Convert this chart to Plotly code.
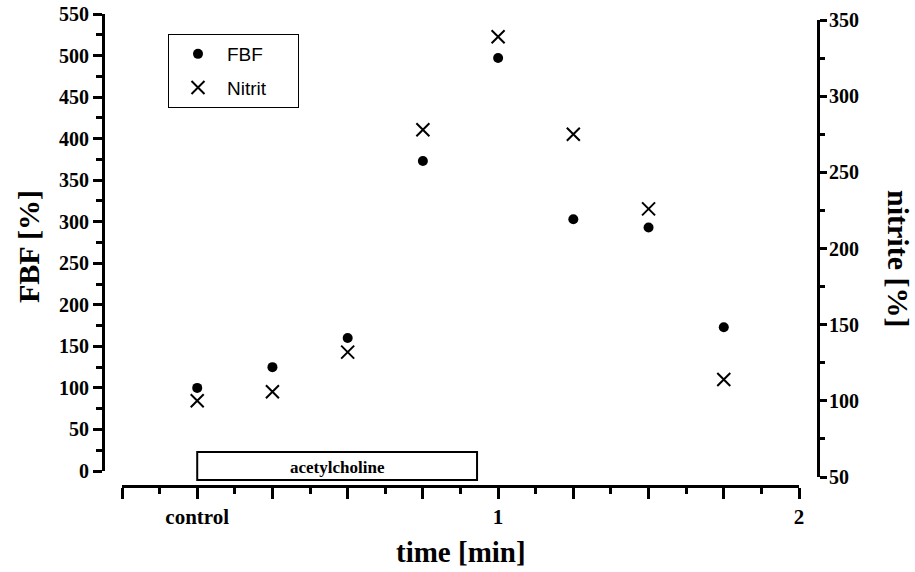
import plotly.graph_objects as go

W, H = 915, 572

time_min = [0, 0.25, 0.5, 0.75, 1.0, 1.25, 1.5, 1.75]
fbf_pct = [100, 125, 160, 373, 497, 303, 293, 173]
nitrit_pct = [100, 106, 132, 278, 339, 275, 226, 114]

x_tickvals = [-0.25, 0, 0.25, 0.5, 0.75, 1.0, 1.25, 1.5, 1.75, 2.0]
x_ticktext = ["", "control", "", "", "", "1", "", "", "", "2"]

ach_start, ach_end = 0, 0.93
ach_label = "acetylcholine"

# legend labels (non-breaking spaces only widen the legend box)
legend_names = ["FBF", "Nitrit\u00a0\u00a0\u00a0\u00a0\u00a0"]


def px(x):
    return x / W


def py(y):
    return 1 - y / H


serif = "Liberation Serif, Times New Roman, serif"
sans = "Liberation Sans, Arial, sans-serif"

fig = go.Figure()
fig.add_trace(go.Scatter(
    x=time_min, y=fbf_pct, mode="markers", name=legend_names[0],
    marker=dict(symbol="circle", size=10, color="black"),
    xaxis="x", yaxis="y", legendgroup="a"))
fig.add_trace(go.Scatter(
    x=time_min, y=nitrit_pct, mode="markers", name=legend_names[1],
    marker=dict(symbol="x-thin", size=13, color="black",
                line=dict(width=2, color="black")),
    xaxis="x", yaxis="y2", legendgroup="b"))

ytickfont = dict(family=serif, size=20, color="black", weight="bold")
xtickfont = dict(family=serif, size=21, color="black", weight="bold")

fig.update_layout(
    width=W, height=H,
    margin=dict(l=0, r=0, t=0, b=0, pad=0, autoexpand=False),
    paper_bgcolor="white", plot_bgcolor="rgba(0,0,0,0)",
    showlegend=True,
    legend=dict(x=px(168), y=py(34), xanchor="left", yanchor="top",
                bordercolor="black", borderwidth=1, bgcolor="white",
                font=dict(family=sans, size=19, color="black"),
                tracegroupgap=6, itemwidth=48),
    xaxis=dict(domain=[px(122), px(799)], range=[-0.25, 2.0],
               anchor="free", position=py(485.5),
               showgrid=False, zeroline=False,
               showline=True, linecolor="black", linewidth=3,
               tickmode="array", tickvals=x_tickvals, ticktext=x_ticktext,
               ticks="outside", ticklen=11, tickwidth=3, tickcolor="black",
               tickfont=xtickfont, ticklabelstandoff=0,
               minor=dict(tick0=0.125, dtick=0.25, ticks="outside",
                          ticklen=6, tickwidth=3, tickcolor="black")),
    yaxis=dict(domain=[py(471), py(14)], range=[0, 550],
               anchor="free", position=px(103),
               showgrid=False, zeroline=False,
               showline=True, linecolor="black", linewidth=3,
               dtick=50, tick0=0,
               ticks="outside", ticklen=9, tickwidth=3, tickcolor="black",
               tickfont=ytickfont,
               minor=dict(tick0=25, dtick=50, ticks="outside",
                          ticklen=6, tickwidth=3, tickcolor="black")),
    yaxis2=dict(domain=[py(477), py(20)], range=[50, 350],
                anchor="free", position=px(818), side="right",
                showgrid=False, zeroline=False,
                showline=True, linecolor="black", linewidth=3,
                dtick=50, tick0=50,
                ticks="outside", ticklen=7, tickwidth=3, tickcolor="black",
                tickfont=ytickfont, ticklabelstandoff=-2,
                minor=dict(tick0=75, dtick=50, ticks="outside",
                           ticklen=5, tickwidth=3, tickcolor="black")),
)

fig.add_annotation(text="FBF [%]", x=px(28), y=py(247), xref="paper", yref="paper",
                   xanchor="center", yanchor="middle",
                   textangle=-90, showarrow=False,
                   font=dict(family=serif, size=30, color="black", weight="bold"))
fig.add_annotation(text="nitrite [%]", x=px(899), y=py(258), xref="paper", yref="paper",
                   xanchor="center", yanchor="middle",
                   textangle=90, showarrow=False,
                   font=dict(family=serif, size=30, color="black", weight="bold"))
fig.add_annotation(text="time [min]", x=px(461), y=py(552), xref="paper", yref="paper",
                   xanchor="center", yanchor="middle",
                   showarrow=False,
                   font=dict(family=serif, size=29, color="black", weight="bold"))

fig.add_shape(type="rect", xref="x", yref="paper",
              x0=ach_start, x1=ach_end, y0=py(480), y1=py(452),
              line=dict(color="black", width=2), fillcolor="white")
fig.add_annotation(text=ach_label, x=(ach_start + ach_end) / 2, y=py(467),
                   xref="x", yref="paper", xanchor="center", yanchor="middle",
                   showarrow=False,
                   font=dict(family=serif, size=17, color="black", weight="bold"))

fig.write_html("out.html")
